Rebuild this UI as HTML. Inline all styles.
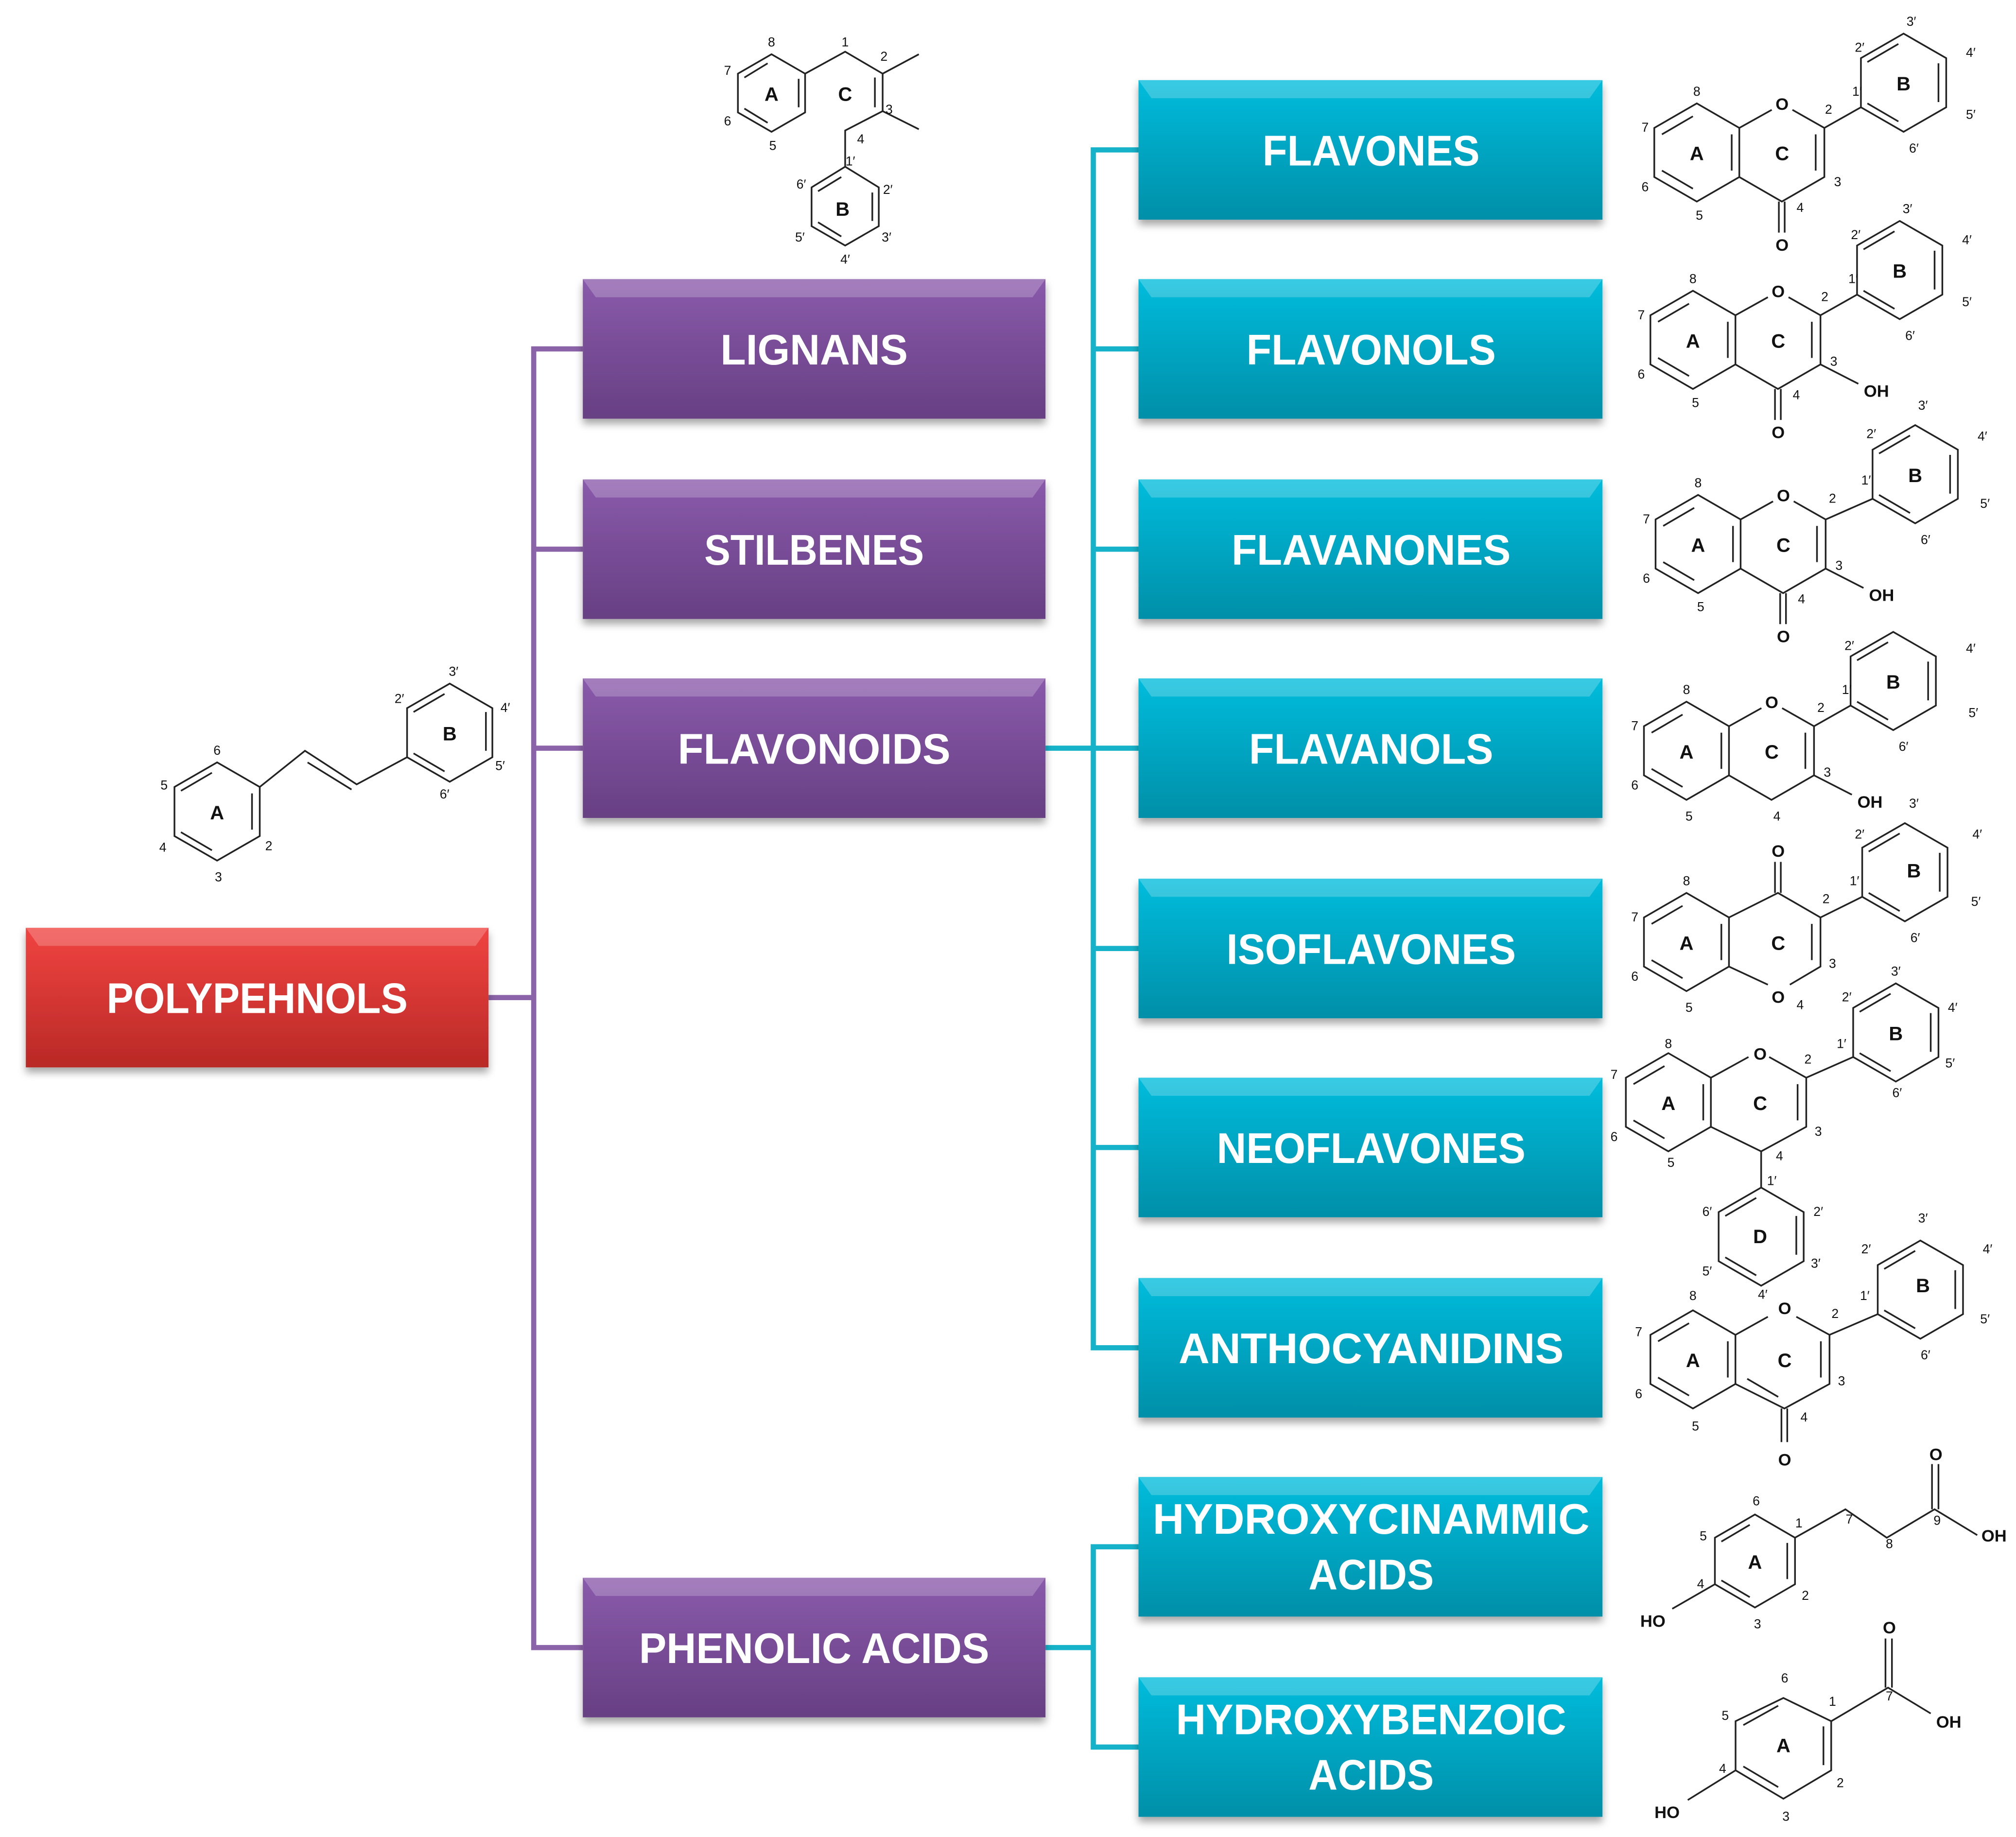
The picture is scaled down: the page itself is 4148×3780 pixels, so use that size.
<!DOCTYPE html>
<html><head><meta charset="utf-8"><style>
html,body{margin:0;padding:0;background:#fff;}
svg{display:block;}
.m path,.m polygon,.m polyline{stroke:#222;stroke-width:1.3;fill:none;}
.m text{font-family:"Liberation Sans",sans-serif;fill:#111;text-anchor:middle;}
.n{font-size:10px;}
.r{font-size:15px;font-weight:bold;}
.o{font-size:13px;font-weight:bold;}
.bt{font-family:"Liberation Sans Narrow","Liberation Sans",sans-serif;font-weight:bold;font-size:33px;fill:#fff;text-anchor:middle;}
</style></head><body>
<svg width="4148" height="3780" viewBox="0 0 1560 1421.6" preserveAspectRatio="none" xmlns="http://www.w3.org/2000/svg">
<defs>
<linearGradient id="gr" x1="0" y1="0" x2="0" y2="1"><stop offset="0" stop-color="#f04441"/><stop offset="1" stop-color="#b92926"/></linearGradient>
<linearGradient id="gp" x1="0" y1="0" x2="0" y2="1"><stop offset="0" stop-color="#8a5aab"/><stop offset="1" stop-color="#673f83"/></linearGradient>
<linearGradient id="gc" x1="0" y1="0" x2="0" y2="1"><stop offset="0" stop-color="#05bcdc"/><stop offset="1" stop-color="#008fa8"/></linearGradient>
<filter id="sh" x="-5%" y="-10%" width="110%" height="130%"><feDropShadow dx="0" dy="4" stdDeviation="3" flood-color="#000" flood-opacity="0.35"/></filter>
</defs>

<!-- connectors -->
<g stroke="#8b63a8" stroke-width="4" fill="none">
<path d="M378,772H413M413,268V1277M413,270H451M413,425H451M413,579H451M413,1275H451"/>
</g>
<g stroke="#16b2c9" stroke-width="4" fill="none">
<path d="M809,579H846M846,114V1045M846,116H881M846,270H881M846,425H881M846,579H881M846,734H881M846,888H881M846,1043H881"/>
<path d="M809,1275H846M846,1195V1354M846,1197H881M846,1352H881"/>
</g>

<!-- boxes -->
<g filter="url(#sh)">
<rect x="20" y="718" width="358" height="108" fill="url(#gr)"/>
<rect x="451" y="216" width="358" height="108" fill="url(#gp)"/>
<rect x="451" y="371" width="358" height="108" fill="url(#gp)"/>
<rect x="451" y="525" width="358" height="108" fill="url(#gp)"/>
<rect x="451" y="1221" width="358" height="108" fill="url(#gp)"/>
<rect x="881" y="62" width="359" height="108" fill="url(#gc)"/>
<rect x="881" y="216" width="359" height="108" fill="url(#gc)"/>
<rect x="881" y="371" width="359" height="108" fill="url(#gc)"/>
<rect x="881" y="525" width="359" height="108" fill="url(#gc)"/>
<rect x="881" y="680" width="359" height="108" fill="url(#gc)"/>
<rect x="881" y="834" width="359" height="108" fill="url(#gc)"/>
<rect x="881" y="989" width="359" height="108" fill="url(#gc)"/>
<rect x="881" y="1143" width="359" height="108" fill="url(#gc)"/>
<rect x="881" y="1298" width="359" height="108" fill="url(#gc)"/>
</g>
<!-- bevel highlights -->
<g fill="#fff" opacity="0.22">
<path d="M20,718h358l-10,14H30z"/>
<path d="M451,216h358l-10,14H461z"/><path d="M451,371h358l-10,14H461z"/><path d="M451,525h358l-10,14H461z"/><path d="M451,1221h358l-10,14H461z"/>
<path d="M881,62h359l-10,14H891z"/><path d="M881,216h359l-10,14H891z"/><path d="M881,371h359l-10,14H891z"/><path d="M881,525h359l-10,14H891z"/><path d="M881,680h359l-10,14H891z"/><path d="M881,834h359l-10,14H891z"/><path d="M881,989h359l-10,14H891z"/><path d="M881,1143h359l-10,14H891z"/><path d="M881,1298h359l-10,14H891z"/>
</g>

<!-- box labels -->
<text class="bt" x="199" y="784" textLength="233" lengthAdjust="spacingAndGlyphs">POLYPEHNOLS</text>
<text class="bt" x="630" y="282" textLength="145" lengthAdjust="spacingAndGlyphs">LIGNANS</text>
<text class="bt" x="630" y="437" textLength="170" lengthAdjust="spacingAndGlyphs">STILBENES</text>
<text class="bt" x="630" y="591" textLength="211" lengthAdjust="spacingAndGlyphs">FLAVONOIDS</text>
<text class="bt" x="630" y="1287" textLength="271" lengthAdjust="spacingAndGlyphs">PHENOLIC ACIDS</text>
<text class="bt" x="1061" y="128" textLength="168" lengthAdjust="spacingAndGlyphs">FLAVONES</text>
<text class="bt" x="1061" y="282" textLength="193" lengthAdjust="spacingAndGlyphs">FLAVONOLS</text>
<text class="bt" x="1061" y="437" textLength="216" lengthAdjust="spacingAndGlyphs">FLAVANONES</text>
<text class="bt" x="1061" y="591" textLength="189" lengthAdjust="spacingAndGlyphs">FLAVANOLS</text>
<text class="bt" x="1061" y="746" textLength="224" lengthAdjust="spacingAndGlyphs">ISOFLAVONES</text>
<text class="bt" x="1061" y="900" textLength="239" lengthAdjust="spacingAndGlyphs">NEOFLAVONES</text>
<text class="bt" x="1061" y="1055" textLength="298" lengthAdjust="spacingAndGlyphs">ANTHOCYANIDINS</text>
<text class="bt" x="1061" y="1187" textLength="338" lengthAdjust="spacingAndGlyphs">HYDROXYCINAMMIC</text>
<text class="bt" x="1061" y="1230" textLength="97" lengthAdjust="spacingAndGlyphs">ACIDS</text>
<text class="bt" x="1061" y="1342" textLength="302" lengthAdjust="spacingAndGlyphs">HYDROXYBENZOIC</text>
<text class="bt" x="1061" y="1385" textLength="97" lengthAdjust="spacingAndGlyphs">ACIDS</text>

<!-- FLAVONES -->
<g class="m" transform="translate(1313,118)">
<polygon points="0,-38 32.9,-19 32.9,19 0,38 -32.9,19 -32.9,-19"/>
<path d="M-27,-14L-3,-28M27,-14V14M-27,14L-3,28"/>
<path d="M32.9,-19L58,-33M74,-33L98.7,-19V19L65.8,38L32.9,19M92,-14V14"/>
<path d="M63.5,38V62M68,38V62"/>
<path d="M98.7,-19L127,-35M132,-70L156,-84M187,-69V-39M132,-38L156,-24"/>
<polygon points="160,-92 193,-73 193,-35 160,-16 127,-35 127,-73"/>
<text class="o" x="66" y="-33">O</text><text class="o" x="66" y="76">O</text>
<text class="r" x="0" y="6">A</text><text class="r" x="66" y="6">C</text><text class="r" x="160" y="-48">B</text>
<text class="n" x="0" y="-44">8</text><text class="n" x="-40" y="-16">7</text><text class="n" x="-40" y="30">6</text><text class="n" x="2" y="52">5</text><text class="n" x="80" y="46">4</text><text class="n" x="109" y="26">3</text><text class="n" x="102" y="-30">2</text><text class="n" x="124" y="-44">1′</text><text class="n" x="126" y="-78">2′</text><text class="n" x="166" y="-98">3′</text><text class="n" x="212" y="-74">4′</text><text class="n" x="212" y="-26">5′</text><text class="n" x="168" y="0">6′</text>
</g>

<!-- FLAVONOLS -->
<g class="m" transform="translate(1310,263)">
<polygon points="0,-38 32.9,-19 32.9,19 0,38 -32.9,19 -32.9,-19"/>
<path d="M-27,-14L-3,-28M27,-14V14M-27,14L-3,28"/>
<path d="M32.9,-19L58,-33M74,-33L98.7,-19V19L65.8,38L32.9,19M92,-14V14"/>
<path d="M63.5,38V62M68,38V62M98.7,19L128,34"/>
<path d="M98.7,-19L127,-35M132,-70L156,-84M187,-69V-39M132,-38L156,-24"/>
<polygon points="160,-92 193,-73 193,-35 160,-16 127,-35 127,-73"/>
<text class="o" x="66" y="-33">O</text><text class="o" x="66" y="76">O</text><text class="o" x="142" y="44">OH</text>
<text class="r" x="0" y="6">A</text><text class="r" x="66" y="6">C</text><text class="r" x="160" y="-48">B</text>
<text class="n" x="0" y="-44">8</text><text class="n" x="-40" y="-16">7</text><text class="n" x="-40" y="30">6</text><text class="n" x="2" y="52">5</text><text class="n" x="80" y="46">4</text><text class="n" x="109" y="20">3</text><text class="n" x="102" y="-30">2</text><text class="n" x="124" y="-44">1′</text><text class="n" x="126" y="-78">2′</text><text class="n" x="166" y="-98">3′</text><text class="n" x="212" y="-74">4′</text><text class="n" x="212" y="-26">5′</text><text class="n" x="168" y="0">6′</text>
</g>

<!-- FLAVANONES -->
<g class="m" transform="translate(1314,421)">
<polygon points="0,-38 32.9,-19 32.9,19 0,38 -32.9,19 -32.9,-19"/>
<path d="M-27,-14L-3,-28M27,-14V14M-27,14L-3,28"/>
<path d="M32.9,-19L58,-33M74,-33L98.7,-19V19L65.8,38L32.9,19M92,-14V14"/>
<path d="M63.5,38V62M68,38V62M98.7,19L128,34"/>
<path d="M98.7,-19L135,-35M140,-70L164,-84M195,-69V-39M140,-38L164,-24"/>
<polygon points="168,-92 201,-73 201,-35 168,-16 135,-35 135,-73"/>
<text class="o" x="66" y="-33">O</text><text class="o" x="66" y="76">O</text><text class="o" x="142" y="44">OH</text>
<text class="r" x="0" y="6">A</text><text class="r" x="66" y="6">C</text><text class="r" x="168" y="-48">B</text>
<text class="n" x="0" y="-44">8</text><text class="n" x="-40" y="-16">7</text><text class="n" x="-40" y="30">6</text><text class="n" x="2" y="52">5</text><text class="n" x="80" y="46">4</text><text class="n" x="109" y="20">3</text><text class="n" x="104" y="-32">2</text><text class="n" x="130" y="-46">1′</text><text class="n" x="134" y="-82">2′</text><text class="n" x="174" y="-104">3′</text><text class="n" x="220" y="-80">4′</text><text class="n" x="222" y="-28">5′</text><text class="n" x="176" y="0">6′</text>
</g>

<!-- FLAVANOLS -->
<g class="m" transform="translate(1305,581)">
<polygon points="0,-38 32.9,-19 32.9,19 0,38 -32.9,19 -32.9,-19"/>
<path d="M-27,-14L-3,-28M27,-14V14M-27,14L-3,28"/>
<path d="M32.9,-19L58,-33M74,-33L98.7,-19V19L65.8,38L32.9,19M92,-14V14M98.7,19L128,34"/>
<path d="M98.7,-19L127,-35M132,-70L156,-84M187,-69V-39M132,-38L156,-24"/>
<polygon points="160,-92 193,-73 193,-35 160,-16 127,-35 127,-73"/>
<text class="o" x="66" y="-33">O</text><text class="o" x="142" y="44">OH</text>
<text class="r" x="0" y="6">A</text><text class="r" x="66" y="6">C</text><text class="r" x="160" y="-48">B</text>
<text class="n" x="0" y="-44">8</text><text class="n" x="-40" y="-16">7</text><text class="n" x="-40" y="30">6</text><text class="n" x="2" y="54">5</text><text class="n" x="70" y="54">4</text><text class="n" x="109" y="20">3</text><text class="n" x="104" y="-30">2</text><text class="n" x="124" y="-44">1′</text><text class="n" x="126" y="-78">2′</text><text class="n" x="176" y="44">3′</text><text class="n" x="220" y="-76">4′</text><text class="n" x="222" y="-26">5′</text><text class="n" x="168" y="0">6′</text>
</g>

<!-- ISOFLAVONES -->
<g class="m" transform="translate(1305,729)">
<polygon points="0,-38 32.9,-19 32.9,19 0,38 -32.9,19 -32.9,-19"/>
<path d="M-27,-14L-3,-28M27,-14V14M-27,14L-3,28"/>
<path d="M32.9,-19L70.8,-38L103.7,-19V19L80,33M63,33L32.9,19M97,-14V14"/>
<path d="M68.5,-38V-62M73,-38V-62"/>
<path d="M103.7,-19L136,-35M141,-70L165,-84M196,-69V-39M141,-38L165,-24"/>
<polygon points="169,-92 202,-73 202,-35 169,-16 136,-35 136,-73"/>
<text class="o" x="71" y="-66">O</text><text class="o" x="71" y="47">O</text>
<text class="r" x="0" y="6">A</text><text class="r" x="71" y="6">C</text><text class="r" x="176" y="-50">B</text>
<text class="n" x="0" y="-44">8</text><text class="n" x="-40" y="-16">7</text><text class="n" x="-40" y="30">6</text><text class="n" x="2" y="54">5</text><text class="n" x="88" y="52">4</text><text class="n" x="113" y="20">3</text><text class="n" x="108" y="-30">2</text><text class="n" x="130" y="-44">1′</text><text class="n" x="134" y="-80">2′</text><text class="n" x="225" y="-80">4′</text><text class="n" x="224" y="-28">5′</text><text class="n" x="177" y="0">6′</text>
</g>

<!-- NEOFLAVONES -->
<g class="m" transform="translate(1291,853)">
<polygon points="0,-38 32.9,-19 32.9,19 0,38 -32.9,19 -32.9,-19"/>
<path d="M-27,-14L-3,-28M27,-14V14M-27,14L-3,28"/>
<path d="M32.9,-19L62,-35M78,-35L106.7,-19V19L71.8,38L32.9,19M100,-14V14"/>
<path d="M71.8,38V66"/>
<polygon points="71.8,66 104.7,85 104.7,123 71.8,142 38.9,123 38.9,85"/>
<path d="M44,88L68,74M99,88V118M44,120L68,134"/>
<path d="M106.7,-19L143,-35M148,-70L172,-84M203,-69V-39M148,-38L172,-24"/>
<polygon points="176,-92 209,-73 209,-35 176,-16 143,-35 143,-73"/>
<text class="o" x="71" y="-33">O</text>
<text class="r" x="0" y="6">A</text><text class="r" x="71" y="6">C</text><text class="r" x="176" y="-48">B</text><text class="r" x="71" y="109">D</text>
<text class="n" x="0" y="-42">8</text><text class="n" x="-42" y="-18">7</text><text class="n" x="-42" y="30">6</text><text class="n" x="2" y="50">5</text><text class="n" x="86" y="45">4</text><text class="n" x="116" y="26">3</text><text class="n" x="108" y="-30">2</text><text class="n" x="134" y="-42">1′</text><text class="n" x="138" y="-78">2′</text><text class="n" x="220" y="-70">4′</text><text class="n" x="218" y="-27">5′</text><text class="n" x="177" y="-4">6′</text>
<text class="n" x="80" y="64">1′</text><text class="n" x="116" y="88">2′</text><text class="n" x="114" y="128">3′</text><text class="n" x="73" y="152">4′</text><text class="n" x="30" y="134">5′</text><text class="n" x="30" y="88">6′</text><text class="n" x="176" y="-98">3′</text>
</g>

<!-- ANTHOCYANIDINS -->
<g class="m" transform="translate(1310,1052)">
<polygon points="0,-38 32.9,-19 32.9,19 0,38 -32.9,19 -32.9,-19"/>
<path d="M-27,-14L-3,-28M27,-14V14M-27,14L-3,28"/>
<path d="M32.9,-19L58,-33M80,-33L105.7,-19V19L70.8,38L32.9,19M99,-14V14M42,15L66,29"/>
<path d="M68.5,38V64M73,38V64"/>
<path d="M105.7,-19L143,-35M148,-70L172,-84M203,-69V-39M148,-38L172,-24"/>
<polygon points="176,-92 209,-73 209,-35 176,-16 143,-35 143,-73"/>
<text class="o" x="71" y="-35">O</text><text class="o" x="71" y="82">O</text>
<text class="r" x="0" y="6">A</text><text class="r" x="71" y="6">C</text><text class="r" x="178" y="-52">B</text>
<text class="n" x="0" y="-46">8</text><text class="n" x="-42" y="-18">7</text><text class="n" x="-42" y="30">6</text><text class="n" x="2" y="55">5</text><text class="n" x="86" y="48">4</text><text class="n" x="115" y="20">3</text><text class="n" x="110" y="-32">2</text><text class="n" x="133" y="-46">1′</text><text class="n" x="134" y="-82">2′</text><text class="n" x="178" y="-106">3′</text><text class="n" x="228" y="-82">4′</text><text class="n" x="226" y="-28">5′</text><text class="n" x="180" y="0">6′</text>
</g>

<!-- STILBENE -->
<g class="m">
<polygon points="168,590 201,609 201,647 168,666 135,647 135,609"/>
<path d="M140,612L164,598M195,614V642M140,644L164,658"/>
<path d="M201,609L236,581L276,607L315,586M238,590L272,611"/>
<polygon points="348,529 381,548 381,586 348,605 315,586 315,548"/>
<path d="M320,551L344,537M376,551V581M320,583L344,597"/>
<text class="r" x="168" y="634">A</text><text class="r" x="348" y="573">B</text>
<text class="n" x="168" y="584">6</text><text class="n" x="127" y="611">5</text><text class="n" x="126" y="659">4</text><text class="n" x="169" y="682">3</text><text class="n" x="208" y="658">2</text>
<text class="n" x="309" y="544">2′</text><text class="n" x="351" y="523">3′</text><text class="n" x="391" y="551">4′</text><text class="n" x="387" y="596">5′</text><text class="n" x="344" y="618">6′</text>
</g>

<!-- LIGNAN -->
<g class="m">
<polygon points="597,42 623,57 623,87 597,102 571,87 571,57"/>
<path d="M576,60L594,49M618,61V83M576,84L594,95"/>
<path d="M623,57L654,40L683,57V86L654,101V129M677,60V83M683,57L711,42M683,86L711,100"/>
<polygon points="654,129 680,145 680,175 654,190 628,175 628,145"/>
<path d="M633,148L651,137M675,149V171M633,172L651,183"/>
<text class="r" x="597" y="78">A</text><text class="r" x="654" y="78">C</text><text class="r" x="652" y="167">B</text>
<text class="n" x="597" y="36">8</text><text class="n" x="563" y="58">7</text><text class="n" x="563" y="97">6</text><text class="n" x="598" y="116">5</text><text class="n" x="654" y="36">1</text><text class="n" x="684" y="47">2</text><text class="n" x="688" y="88">3</text><text class="n" x="666" y="111">4</text>
<text class="n" x="658" y="128">1′</text><text class="n" x="687" y="150">2′</text><text class="n" x="686" y="187">3′</text><text class="n" x="654" y="204">4′</text><text class="n" x="619" y="187">5′</text><text class="n" x="620" y="146">6′</text>
</g>

<!-- HYDROXYCINNAMIC -->
<g class="m">
<polygon points="1358,1172 1389,1190 1389,1226 1358,1244 1327,1226 1327,1190"/>
<path d="M1332,1193L1354,1180M1383,1194V1222M1332,1223L1354,1236"/>
<path d="M1327,1226L1294,1245M1389,1190L1428,1168L1460,1190L1497,1168L1530,1188M1495,1168V1133M1500,1168V1133"/>
<text class="r" x="1358" y="1214">A</text>
<text class="o" x="1279" y="1259">HO</text><text class="o" x="1498" y="1130">O</text><text class="o" x="1543" y="1193">OH</text>
<text class="n" x="1359" y="1165">6</text><text class="n" x="1318" y="1192">5</text><text class="n" x="1316" y="1229">4</text><text class="n" x="1360" y="1260">3</text><text class="n" x="1397" y="1238">2</text><text class="n" x="1392" y="1182">1</text><text class="n" x="1431" y="1179">7</text><text class="n" x="1462" y="1198">8</text><text class="n" x="1499" y="1180">9</text>
</g>

<!-- HYDROXYBENZOIC -->
<g class="m">
<polygon points="1380,1314 1417,1332 1417,1370 1380,1392 1343,1370 1343,1332"/>
<path d="M1349,1335L1376,1320M1411,1336V1366M1349,1367L1376,1383"/>
<path d="M1343,1370L1306,1393M1417,1332L1461,1306L1494,1326M1459,1306V1268M1464,1306V1268"/>
<text class="r" x="1380" y="1356">A</text>
<text class="o" x="1290" y="1407">HO</text><text class="o" x="1462" y="1264">O</text><text class="o" x="1508" y="1337">OH</text>
<text class="n" x="1381" y="1302">6</text><text class="n" x="1335" y="1331">5</text><text class="n" x="1333" y="1372">4</text><text class="n" x="1382" y="1409">3</text><text class="n" x="1424" y="1383">2</text><text class="n" x="1418" y="1320">1</text><text class="n" x="1462" y="1316">7</text>
</g>
</svg>
</body></html>
